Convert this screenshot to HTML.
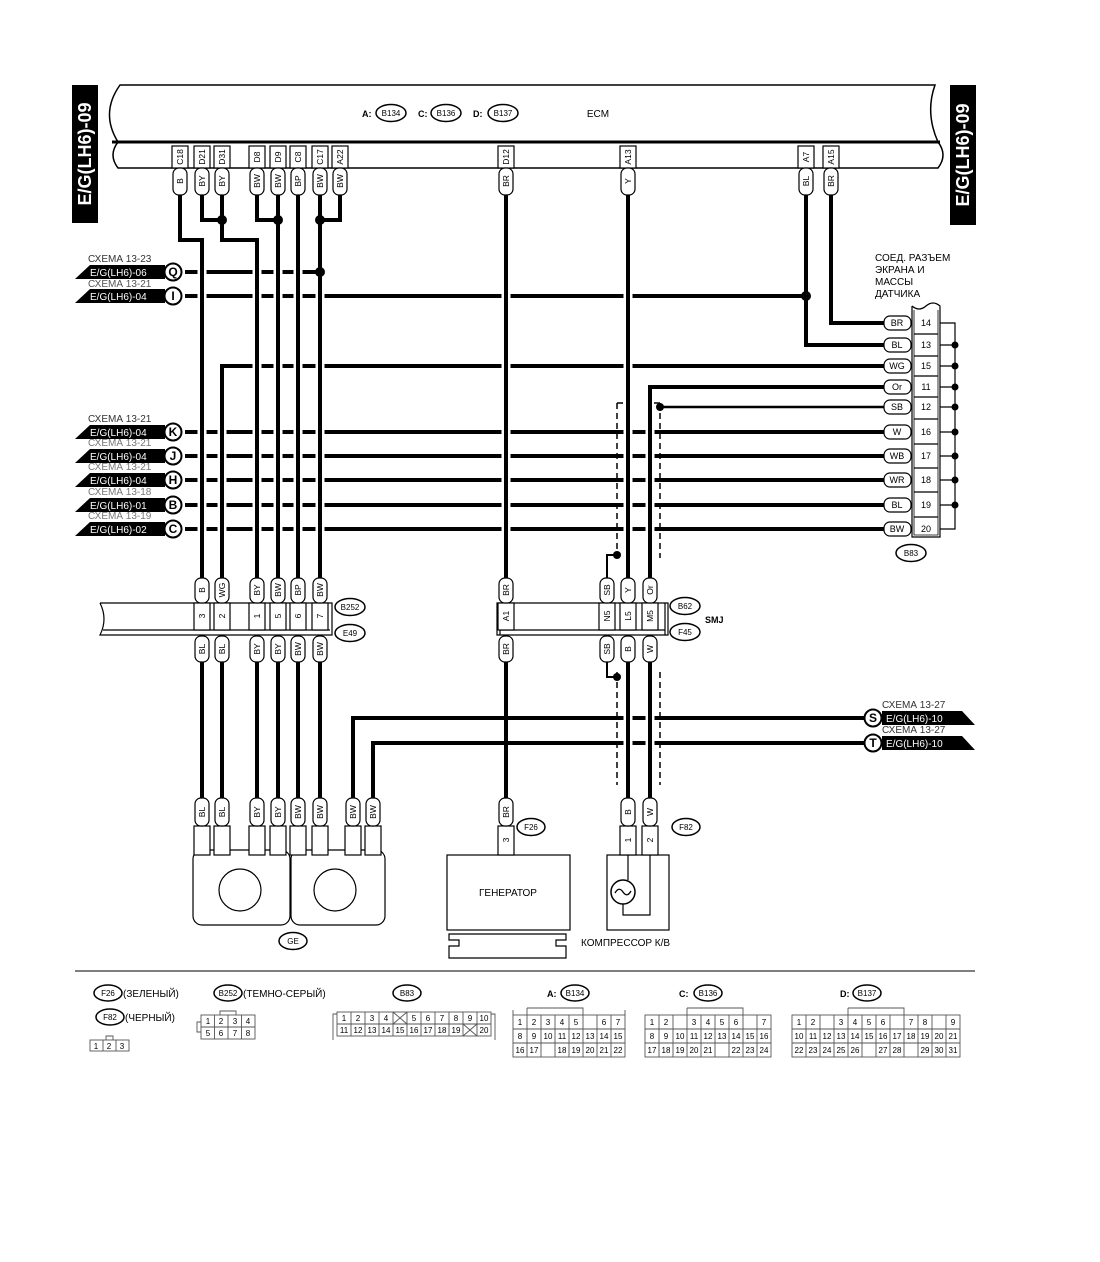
<!DOCTYPE html>
<html><head><meta charset="utf-8"><style>
html,body{margin:0;padding:0;background:#fff}
svg{display:block}
text{font-family:"Liberation Sans",sans-serif;fill:#000}
</style></head><body>
<svg width="1100" height="1262" viewBox="0 0 1100 1262" xmlns="http://www.w3.org/2000/svg">
<rect width="1100" height="1262" fill="#fff"/>
<!-- ECM -->
<path d="M120 85 H935 Q925 113 938 142 Q948 155 938 168 H118 Q108 155 118 142 Q100 113 120 85 Z" fill="#fff" stroke="#000" stroke-width="1.5"/>
<line x1="112" y1="142" x2="940" y2="142" stroke="#000" stroke-width="3"/>
<text x="362" y="117" font-size="9" font-weight="bold">A:</text>
<ellipse cx="391" cy="113" rx="15" ry="8.5" fill="#fff" stroke="#000" stroke-width="1.5"/><text x="391" y="116" font-size="8" text-anchor="middle">B134</text>
<text x="418" y="117" font-size="9" font-weight="bold">C:</text>
<ellipse cx="446" cy="113" rx="15" ry="8.5" fill="#fff" stroke="#000" stroke-width="1.5"/><text x="446" y="116" font-size="8" text-anchor="middle">B136</text>
<text x="473" y="117" font-size="9" font-weight="bold">D:</text>
<ellipse cx="503" cy="113" rx="15" ry="8.5" fill="#fff" stroke="#000" stroke-width="1.5"/><text x="503" y="116" font-size="8" text-anchor="middle">B137</text>
<text x="598" y="117" font-size="10" text-anchor="middle">ECM</text>
<!-- side labels -->
<rect x="72" y="85" width="26" height="138" fill="#000"/>
<text transform="translate(91,154) rotate(-90)" font-size="18" font-weight="bold" text-anchor="middle" style="fill:#fff">E/G(LH6)-09</text>
<rect x="950" y="85" width="26" height="140" fill="#000"/>
<text transform="translate(969,155) rotate(-90)" font-size="18" font-weight="bold" text-anchor="middle" style="fill:#fff">E/G(LH6)-09</text>

<!-- horizontal wires -->
<g stroke="#000" stroke-width="4" fill="none">
<path d="M185 272 H320"/>
<path d="M185 296 H806"/>
<path d="M185 432 H885 M185 456 H885 M185 480 H885 M185 505 H885 M185 529 H885"/>
<path d="M885 366 H222 V578"/>
<path d="M885 387 H650 V578"/>
<path d="M831 195 V323 H885"/>
<path d="M806 195 V345 H885"/>
<path d="M865 718 H353 V798"/>
<path d="M865 743 H373 V798"/>
</g>
<path d="M885 407 H660" stroke="#000" stroke-width="2.5"/>
<!-- vertical halos -->
<g stroke="#fff" stroke-width="9" fill="none">
<path d="M202 246 V578 M257 246 V578 M278 226 V578 M298 200 V578 M320 226 V578 M506 200 V578 M628 200 V578 M222 372 V578 M650 393 V578 M628 662 V798 M650 662 V798"/>
</g>
<g stroke="#000" stroke-width="4" fill="none">
<path d="M180 195 V240 H202 V578"/>
<path d="M202 195 V220 H222"/>
<path d="M222 195 V240 H257 V578"/>
<path d="M257 195 V220 H278"/>
<path d="M278 195 V578"/>
<path d="M298 195 V578"/>
<path d="M320 195 V578"/>
<path d="M340 195 V220 H320"/>
<path d="M506 195 V578"/>
<path d="M628 195 V578"/>
<path d="M222 366 V578"/>
<path d="M650 387 V578"/>
<path d="M202 662 V798 M222 662 V798 M257 662 V798 M278 662 V798 M298 662 V798 M320 662 V798 M506 662 V798 M628 662 V798 M650 662 V798"/>
</g>
<g stroke="#000" stroke-width="2" fill="none">
<path d="M617 555 H607 V578"/>
<path d="M607 662 V677 H617"/>
</g>
<g stroke="#000" stroke-width="1.5" fill="none" stroke-dasharray="6,4">
<path d="M617 403 V558 M660 403 V558 M617 403 H624 M660 403 H653 M617 672 V785 M660 672 V785"/>
</g>
<g fill="#000">
<circle cx="222" cy="220" r="5"/><circle cx="278" cy="220" r="5"/><circle cx="320" cy="220" r="5"/>
<circle cx="320" cy="272" r="5"/><circle cx="806" cy="296" r="5"/>
<circle cx="660" cy="407" r="4"/><circle cx="617" cy="555" r="4"/><circle cx="617" cy="677" r="4"/>
</g>

<!-- ECM pins & tags -->
<g font-size="8.5" text-anchor="middle">
<g fill="#fff" stroke="#000" stroke-width="1.2">
<rect x="172" y="146" width="16" height="22"/><rect x="194" y="146" width="16" height="22"/><rect x="214" y="146" width="16" height="22"/><rect x="249" y="146" width="16" height="22"/><rect x="270" y="146" width="16" height="22"/><rect x="290" y="146" width="16" height="22"/><rect x="312" y="146" width="16" height="22"/><rect x="332" y="146" width="16" height="22"/><rect x="498" y="146" width="16" height="22"/><rect x="620" y="146" width="16" height="22"/><rect x="798" y="146" width="16" height="22"/><rect x="823" y="146" width="16" height="22"/>
<rect x="173" y="168" width="14" height="27" rx="6"/><rect x="195" y="168" width="14" height="27" rx="6"/><rect x="215" y="168" width="14" height="27" rx="6"/><rect x="250" y="168" width="14" height="27" rx="6"/><rect x="271" y="168" width="14" height="27" rx="6"/><rect x="291" y="168" width="14" height="27" rx="6"/><rect x="313" y="168" width="14" height="27" rx="6"/><rect x="333" y="168" width="14" height="27" rx="6"/><rect x="499" y="168" width="14" height="27" rx="6"/><rect x="621" y="168" width="14" height="27" rx="6"/><rect x="799" y="168" width="14" height="27" rx="6"/><rect x="824" y="168" width="14" height="27" rx="6"/>
</g>
<text transform="translate(183,157) rotate(-90)">C18</text><text transform="translate(205,157) rotate(-90)">D21</text><text transform="translate(225,157) rotate(-90)">D31</text><text transform="translate(260,157) rotate(-90)">D8</text><text transform="translate(281,157) rotate(-90)">D9</text><text transform="translate(301,157) rotate(-90)">C8</text><text transform="translate(323,157) rotate(-90)">C17</text><text transform="translate(343,157) rotate(-90)">A22</text><text transform="translate(509,157) rotate(-90)">D12</text><text transform="translate(631,157) rotate(-90)">A13</text><text transform="translate(809,157) rotate(-90)">A7</text><text transform="translate(834,157) rotate(-90)">A15</text>
<text transform="translate(183,181) rotate(-90)">B</text><text transform="translate(205,181) rotate(-90)">BY</text><text transform="translate(225,181) rotate(-90)">BY</text><text transform="translate(260,181) rotate(-90)">BW</text><text transform="translate(281,181) rotate(-90)">BW</text><text transform="translate(301,181) rotate(-90)">BP</text><text transform="translate(323,181) rotate(-90)">BW</text><text transform="translate(343,181) rotate(-90)">BW</text><text transform="translate(509,181) rotate(-90)">BR</text><text transform="translate(631,181) rotate(-90)">Y</text><text transform="translate(809,181) rotate(-90)">BL</text><text transform="translate(834,181) rotate(-90)">BR</text>
</g>

<!-- left flags -->
<g font-size="10">
<text x="88" y="262" style="fill:#333">СХЕМА 13-23</text>
<text x="88" y="287" style="fill:#555">СХЕМА 13-21</text>
<text x="88" y="422" style="fill:#333">СХЕМА 13-21</text>
<text x="88" y="446" style="fill:#777">СХЕМА 13-21</text>
<text x="88" y="470" style="fill:#777">СХЕМА 13-21</text>
<text x="88" y="495" style="fill:#777">СХЕМА 13-18</text>
<text x="88" y="519" style="fill:#777">СХЕМА 13-19</text>
</g>
<g fill="#000">
<polygon points="75,279 90,265 165,265 165,279"/>
<polygon points="75,303 90,289 165,289 165,303"/>
<polygon points="75,439 90,425 165,425 165,439"/>
<polygon points="75,463 90,449 165,449 165,463"/>
<polygon points="75,487 90,473 165,473 165,487"/>
<polygon points="75,512 90,498 165,498 165,512"/>
<polygon points="75,536 90,522 165,522 165,536"/>
</g>
<g font-size="10">
<text x="90" y="276" style="fill:#fff">E/G(LH6)-06</text>
<text x="90" y="300" style="fill:#fff">E/G(LH6)-04</text>
<text x="90" y="436" style="fill:#fff">E/G(LH6)-04</text>
<text x="90" y="460" style="fill:#fff">E/G(LH6)-04</text>
<text x="90" y="484" style="fill:#fff">E/G(LH6)-04</text>
<text x="90" y="509" style="fill:#fff">E/G(LH6)-01</text>
<text x="90" y="533" style="fill:#fff">E/G(LH6)-02</text>
</g>
<g fill="#fff" stroke="#000" stroke-width="2">
<circle cx="173" cy="272" r="8.5"/><circle cx="173" cy="296" r="8.5"/><circle cx="173" cy="432" r="8.5"/><circle cx="173" cy="456" r="8.5"/><circle cx="173" cy="480" r="8.5"/><circle cx="173" cy="505" r="8.5"/><circle cx="173" cy="529" r="8.5"/>
</g>
<g font-size="12" font-weight="bold" text-anchor="middle">
<text x="173" y="276">Q</text><text x="173" y="300">I</text><text x="173" y="436">K</text><text x="173" y="460">J</text><text x="173" y="484">H</text><text x="173" y="509">B</text><text x="173" y="533">C</text>
</g>

<!-- right flags -->
<g font-size="10"><text x="882" y="708" style="fill:#333">СХЕМА 13-27</text><text x="882" y="733" style="fill:#333">СХЕМА 13-27</text></g>
<polygon points="882,711 962,711 975,725 882,725" fill="#000"/>
<polygon points="882,736 962,736 975,750 882,750" fill="#000"/>
<text x="886" y="722" font-size="10" style="fill:#fff">E/G(LH6)-10</text>
<text x="886" y="747" font-size="10" style="fill:#fff">E/G(LH6)-10</text>
<circle cx="873" cy="718" r="8.5" fill="#fff" stroke="#000" stroke-width="2"/>
<circle cx="873" cy="743" r="8.5" fill="#fff" stroke="#000" stroke-width="2"/>
<text x="873" y="722" font-size="12" font-weight="bold" text-anchor="middle">S</text>
<text x="873" y="747" font-size="12" font-weight="bold" text-anchor="middle">T</text>

<!-- B83 connector -->
<text x="875" y="261" font-size="10">СОЕД. РАЗЪЕМ</text>
<text x="875" y="273" font-size="10">ЭКРАНА И</text>
<text x="875" y="285" font-size="10">МАССЫ</text>
<text x="875" y="297" font-size="10">ДАТЧИКА</text>
<path d="M912 306 V537 H940 V306 Q933 300 926 306 Q919 312 912 306" fill="#fff" stroke="#000" stroke-width="1.2"/>
<path d="M914 310 V535 H938 V310" fill="none" stroke="#000" stroke-width="0.8"/>
<g stroke="#000" stroke-width="1.2" fill="none">
<path d="M940 323 H955 V529 H940 M940 345 H955 M940 366 H955 M940 387 H955 M940 407 H955 M940 432 H955 M940 456 H955 M940 480 H955 M940 505 H955"/>
<path d="M914 334 H938 M914 356 H938 M914 376 H938 M914 397 H938 M914 419 H938 M914 444 H938 M914 468 H938 M914 492 H938 M914 517 H938"/>
</g>
<g fill="#000"><circle cx="955" cy="345" r="3.5"/><circle cx="955" cy="366" r="3.5"/><circle cx="955" cy="387" r="3.5"/><circle cx="955" cy="407" r="3.5"/><circle cx="955" cy="432" r="3.5"/><circle cx="955" cy="456" r="3.5"/><circle cx="955" cy="480" r="3.5"/><circle cx="955" cy="505" r="3.5"/></g>
<g fill="#fff" stroke="#000" stroke-width="1.2">
<rect x="884" y="316" width="27" height="14" rx="6"/><rect x="884" y="338" width="27" height="14" rx="6"/><rect x="884" y="359" width="27" height="14" rx="6"/><rect x="884" y="380" width="27" height="14" rx="6"/><rect x="884" y="400" width="27" height="14" rx="6"/><rect x="884" y="425" width="27" height="14" rx="6"/><rect x="884" y="449" width="27" height="14" rx="6"/><rect x="884" y="473" width="27" height="14" rx="6"/><rect x="884" y="498" width="27" height="14" rx="6"/><rect x="884" y="522" width="27" height="14" rx="6"/>
</g>
<g font-size="9" text-anchor="middle">
<text x="897" y="326">BR</text><text x="897" y="348">BL</text><text x="897" y="369">WG</text><text x="897" y="390">Or</text><text x="897" y="410">SB</text><text x="897" y="435">W</text><text x="897" y="459">WB</text><text x="897" y="483">WR</text><text x="897" y="508">BL</text><text x="897" y="532">BW</text>
<text x="926" y="326">14</text><text x="926" y="348">13</text><text x="926" y="369">15</text><text x="926" y="390">11</text><text x="926" y="410">12</text><text x="926" y="435">16</text><text x="926" y="459">17</text><text x="926" y="483">18</text><text x="926" y="508">19</text><text x="926" y="532">20</text>
</g>
<ellipse cx="911" cy="553" rx="15" ry="8.5" fill="#fff" stroke="#000" stroke-width="1.5"/><text x="911" y="556" font-size="8" text-anchor="middle">B83</text>

<!-- SMJ bars -->
<g fill="none" stroke="#000" stroke-width="1.2">
<path d="M100 603 H332 V635 H100 Q108 619 100 603"/>
<path d="M103 630 H330"/>
<path d="M497 603 H668 V635 H497 Z M500 603 V635 M665 603 V635 M500 630 H665"/>
</g>
<g fill="#fff" stroke="#000" stroke-width="1.2">
<rect x="194" y="603" width="16" height="27"/><rect x="214" y="603" width="16" height="27"/><rect x="249" y="603" width="16" height="27"/><rect x="270" y="603" width="16" height="27"/><rect x="290" y="603" width="16" height="27"/><rect x="312" y="603" width="16" height="27"/>
<rect x="498" y="603" width="16" height="27"/><rect x="599" y="603" width="16" height="27"/><rect x="620" y="603" width="16" height="27"/><rect x="642" y="603" width="16" height="27"/>
<rect x="195" y="578" width="14" height="25" rx="6"/><rect x="215" y="578" width="14" height="25" rx="6"/><rect x="250" y="578" width="14" height="25" rx="6"/><rect x="271" y="578" width="14" height="25" rx="6"/><rect x="291" y="578" width="14" height="25" rx="6"/><rect x="313" y="578" width="14" height="25" rx="6"/>
<rect x="499" y="578" width="14" height="25" rx="6"/><rect x="600" y="578" width="14" height="25" rx="6"/><rect x="621" y="578" width="14" height="25" rx="6"/><rect x="643" y="578" width="14" height="25" rx="6"/>
<rect x="195" y="636" width="14" height="26" rx="6"/><rect x="215" y="636" width="14" height="26" rx="6"/><rect x="250" y="636" width="14" height="26" rx="6"/><rect x="271" y="636" width="14" height="26" rx="6"/><rect x="291" y="636" width="14" height="26" rx="6"/><rect x="313" y="636" width="14" height="26" rx="6"/>
<rect x="499" y="636" width="14" height="26" rx="6"/><rect x="600" y="636" width="14" height="26" rx="6"/><rect x="621" y="636" width="14" height="26" rx="6"/><rect x="643" y="636" width="14" height="26" rx="6"/>
</g>
<g font-size="8.5" text-anchor="middle">
<text transform="translate(205,590) rotate(-90)">B</text><text transform="translate(225,590) rotate(-90)">WG</text><text transform="translate(260,590) rotate(-90)">BY</text><text transform="translate(281,590) rotate(-90)">BW</text><text transform="translate(301,590) rotate(-90)">BP</text><text transform="translate(323,590) rotate(-90)">BW</text>
<text transform="translate(509,590) rotate(-90)">BR</text><text transform="translate(610,590) rotate(-90)">SB</text><text transform="translate(631,590) rotate(-90)">Y</text><text transform="translate(653,590) rotate(-90)">Or</text>
<text transform="translate(205,616) rotate(-90)">3</text><text transform="translate(225,616) rotate(-90)">2</text><text transform="translate(260,616) rotate(-90)">1</text><text transform="translate(281,616) rotate(-90)">5</text><text transform="translate(301,616) rotate(-90)">6</text><text transform="translate(323,616) rotate(-90)">7</text>
<text transform="translate(509,616) rotate(-90)">A1</text><text transform="translate(610,616) rotate(-90)">N5</text><text transform="translate(631,616) rotate(-90)">L5</text><text transform="translate(653,616) rotate(-90)">M5</text>
<text transform="translate(205,649) rotate(-90)">BL</text><text transform="translate(225,649) rotate(-90)">BL</text><text transform="translate(260,649) rotate(-90)">BY</text><text transform="translate(281,649) rotate(-90)">BY</text><text transform="translate(301,649) rotate(-90)">BW</text><text transform="translate(323,649) rotate(-90)">BW</text>
<text transform="translate(509,649) rotate(-90)">BR</text><text transform="translate(610,649) rotate(-90)">SB</text><text transform="translate(631,649) rotate(-90)">B</text><text transform="translate(653,649) rotate(-90)">W</text>
</g>
<g fill="#fff" stroke="#000" stroke-width="1.5">
<ellipse cx="350" cy="607" rx="15" ry="8.5"/><ellipse cx="350" cy="633" rx="15" ry="8.5"/>
<ellipse cx="685" cy="606" rx="15" ry="8.5"/><ellipse cx="685" cy="632" rx="15" ry="8.5"/>
</g>
<g font-size="8" text-anchor="middle"><text x="350" y="610">B252</text><text x="350" y="636">E49</text><text x="685" y="609">B62</text><text x="685" y="635">F45</text></g>
<text x="705" y="623" font-size="9" font-weight="bold">SMJ</text>

<!-- bottom connectors -->
<g fill="#fff" stroke="#000" stroke-width="1.2">
<rect x="193" y="850" width="97" height="75" rx="9"/>
<rect x="291" y="850" width="94" height="75" rx="9"/>
<rect x="447" y="855" width="123" height="75"/>
<rect x="607" y="855" width="62" height="75"/>
<path d="M449 934 H566 V940 H556 V946 H566 V958 H449 V946 H459 V940 H449 Z"/>
<rect x="194" y="826" width="16" height="29"/><rect x="214" y="826" width="16" height="29"/><rect x="249" y="826" width="16" height="29"/><rect x="270" y="826" width="16" height="29"/><rect x="290" y="826" width="16" height="29"/><rect x="312" y="826" width="16" height="29"/><rect x="345" y="826" width="16" height="29"/><rect x="365" y="826" width="16" height="29"/>
<rect x="498" y="826" width="16" height="29"/><rect x="620" y="826" width="16" height="29"/><rect x="642" y="826" width="16" height="29"/>
<rect x="195" y="798" width="14" height="28" rx="6"/><rect x="215" y="798" width="14" height="28" rx="6"/><rect x="250" y="798" width="14" height="28" rx="6"/><rect x="271" y="798" width="14" height="28" rx="6"/><rect x="291" y="798" width="14" height="28" rx="6"/><rect x="313" y="798" width="14" height="28" rx="6"/><rect x="346" y="798" width="14" height="28" rx="6"/><rect x="366" y="798" width="14" height="28" rx="6"/>
<rect x="499" y="798" width="14" height="28" rx="6"/><rect x="621" y="798" width="14" height="28" rx="6"/><rect x="643" y="798" width="14" height="28" rx="6"/>
<circle cx="240" cy="890" r="21"/><circle cx="335" cy="890" r="21"/>
</g>
<path d="M628 855 V880 M623 904 V915 H650 V855" fill="none" stroke="#000" stroke-width="1.2"/>
<circle cx="623" cy="892" r="12" fill="#fff" stroke="#000" stroke-width="1.5"/>
<path d="M615 893 Q619 886 623 892 Q627 898 631 891" fill="none" stroke="#000" stroke-width="1.3"/>
<g font-size="8.5" text-anchor="middle">
<text transform="translate(205,812) rotate(-90)">BL</text><text transform="translate(225,812) rotate(-90)">BL</text><text transform="translate(260,812) rotate(-90)">BY</text><text transform="translate(281,812) rotate(-90)">BY</text><text transform="translate(301,812) rotate(-90)">BW</text><text transform="translate(323,812) rotate(-90)">BW</text><text transform="translate(356,812) rotate(-90)">BW</text><text transform="translate(376,812) rotate(-90)">BW</text>
<text transform="translate(509,812) rotate(-90)">BR</text><text transform="translate(631,812) rotate(-90)">B</text><text transform="translate(653,812) rotate(-90)">W</text>
<text transform="translate(509,840) rotate(-90)">3</text><text transform="translate(631,840) rotate(-90)">1</text><text transform="translate(653,840) rotate(-90)">2</text>
</g>
<g fill="#fff" stroke="#000" stroke-width="1.5"><ellipse cx="531" cy="827" rx="14" ry="8.5"/><ellipse cx="686" cy="827" rx="14" ry="8.5"/><ellipse cx="293" cy="941" rx="14" ry="8.5"/></g>
<g font-size="8" text-anchor="middle"><text x="531" y="830">F26</text><text x="686" y="830">F82</text><text x="293" y="944">GE</text></g>
<text x="508" y="896" font-size="10" text-anchor="middle">ГЕНЕРАТОР</text>
<text x="581" y="946" font-size="10">КОМПРЕССОР К/В</text>

<!-- divider -->
<line x1="75" y1="971" x2="975" y2="971" stroke="#555" stroke-width="1.5"/>

<!-- legend -->
<g fill="#fff" stroke="#000" stroke-width="1.5">
<ellipse cx="108" cy="993" rx="14" ry="8"/><ellipse cx="228" cy="993" rx="14" ry="8"/><ellipse cx="407" cy="993" rx="14" ry="8"/>
<ellipse cx="110" cy="1017" rx="14" ry="8"/>
<ellipse cx="575" cy="993" rx="14" ry="8"/><ellipse cx="708" cy="993" rx="14" ry="8"/><ellipse cx="867" cy="993" rx="14" ry="8"/>
</g>
<g font-size="8" text-anchor="middle"><text x="108" y="996">F26</text><text x="228" y="996">B252</text><text x="407" y="996">B83</text><text x="110" y="1020">F82</text><text x="575" y="996">B134</text><text x="708" y="996">B136</text><text x="867" y="996">B137</text></g>
<g font-size="10"><text x="123" y="997">(ЗЕЛЕНЫЙ)</text><text x="243" y="997">(ТЕМНО-СЕРЫЙ)</text><text x="125" y="1021">(ЧЕРНЫЙ)</text>
<text x="547" y="997" font-weight="bold" font-size="9">A:</text><text x="679" y="997" font-weight="bold" font-size="9">C:</text><text x="840" y="997" font-weight="bold" font-size="9">D:</text></g>
<g fill="none" stroke="#555" stroke-width="0.9">
<rect x="90" y="1040" width="39" height="11"/><path d="M103 1040 V1051 M116 1040 V1051 M106 1040 V1036 H113 V1040"/>
<rect x="201" y="1015" width="54" height="24"/><path d="M201 1027 H255 M214.5 1015 V1039 M228 1015 V1039 M241.5 1015 V1039 M220 1015 V1011 H236 V1015 M201 1022 H197 V1032 H201"/>
<rect x="337" y="1012" width="154" height="24"/><path d="M337 1024 H491 M351 1012 V1036 M365 1012 V1036 M379 1012 V1036 M393 1012 V1036 M407 1012 V1036 M421 1012 V1036 M435 1012 V1036 M449 1012 V1036 M463 1012 V1036 M477 1012 V1036 M393 1012 L407 1024 M407 1012 L393 1024 M463 1024 L477 1036 M477 1024 L463 1036 M337 1014 H333 V1040 M491 1014 H495 V1040"/>
<rect x="513" y="1015" width="112" height="42"/><path d="M513 1029 H625 M513 1043 H625 M527 1015 V1057 M541 1015 V1057 M555 1015 V1057 M569 1015 V1029 M583 1015 V1057 M597 1015 V1057 M611 1015 V1057 M569 1029 V1057 M527 1008 V1015 M527 1008 H583 V1015 M513 1010 V1015 M625 1010 V1015"/>
<rect x="645" y="1015" width="126" height="42"/><path d="M645 1029 H771 M645 1043 H771 M659 1015 V1057 M673 1015 V1057 M687 1015 V1057 M701 1015 V1057 M715 1015 V1057 M729 1015 V1057 M743 1015 V1057 M757 1015 V1057 M687 1008 H743 V1015 M687 1008 V1015"/>
<rect x="792" y="1015" width="168" height="42"/><path d="M792 1029 H960 M792 1043 H960 M806 1015 V1057 M820 1015 V1057 M834 1015 V1057 M848 1015 V1057 M862 1015 V1057 M876 1015 V1057 M890 1015 V1057 M904 1015 V1057 M918 1015 V1057 M932 1015 V1057 M946 1015 V1057 M848 1008 H904 V1015 M848 1008 V1015"/>
</g>
<g font-size="8" text-anchor="middle" style="fill:#222">
<text x="96" y="1049">1</text><text x="109" y="1049">2</text><text x="122" y="1049">3</text>
<text x="208" y="1024">1</text><text x="221" y="1024">2</text><text x="235" y="1024">3</text><text x="248" y="1024">4</text>
<text x="208" y="1036">5</text><text x="221" y="1036">6</text><text x="235" y="1036">7</text><text x="248" y="1036">8</text>
<text x="344" y="1021">1</text><text x="358" y="1021">2</text><text x="372" y="1021">3</text><text x="386" y="1021">4</text><text x="414" y="1021">5</text><text x="428" y="1021">6</text><text x="442" y="1021">7</text><text x="456" y="1021">8</text><text x="470" y="1021">9</text><text x="484" y="1021">10</text>
<text x="344" y="1033">11</text><text x="358" y="1033">12</text><text x="372" y="1033">13</text><text x="386" y="1033">14</text><text x="400" y="1033">15</text><text x="414" y="1033">16</text><text x="428" y="1033">17</text><text x="442" y="1033">18</text><text x="456" y="1033">19</text><text x="484" y="1033">20</text>
<text x="520" y="1025">1</text><text x="534" y="1025">2</text><text x="548" y="1025">3</text><text x="562" y="1025">4</text><text x="576" y="1025">5</text><text x="604" y="1025">6</text><text x="618" y="1025">7</text>
<text x="520" y="1039">8</text><text x="534" y="1039">9</text><text x="548" y="1039">10</text><text x="562" y="1039">11</text><text x="576" y="1039">12</text><text x="590" y="1039">13</text><text x="604" y="1039">14</text><text x="618" y="1039">15</text>
<text x="520" y="1053">16</text><text x="534" y="1053">17</text><text x="562" y="1053">18</text><text x="576" y="1053">19</text><text x="590" y="1053">20</text><text x="604" y="1053">21</text><text x="618" y="1053">22</text>
<text x="652" y="1025">1</text><text x="666" y="1025">2</text><text x="694" y="1025">3</text><text x="708" y="1025">4</text><text x="722" y="1025">5</text><text x="736" y="1025">6</text><text x="764" y="1025">7</text>
<text x="652" y="1039">8</text><text x="666" y="1039">9</text><text x="680" y="1039">10</text><text x="694" y="1039">11</text><text x="708" y="1039">12</text><text x="722" y="1039">13</text><text x="736" y="1039">14</text><text x="750" y="1039">15</text><text x="764" y="1039">16</text>
<text x="652" y="1053">17</text><text x="666" y="1053">18</text><text x="680" y="1053">19</text><text x="694" y="1053">20</text><text x="708" y="1053">21</text><text x="736" y="1053">22</text><text x="750" y="1053">23</text><text x="764" y="1053">24</text>
<text x="799" y="1025">1</text><text x="813" y="1025">2</text><text x="841" y="1025">3</text><text x="855" y="1025">4</text><text x="869" y="1025">5</text><text x="883" y="1025">6</text><text x="911" y="1025">7</text><text x="925" y="1025">8</text><text x="953" y="1025">9</text>
<text x="799" y="1039">10</text><text x="813" y="1039">11</text><text x="827" y="1039">12</text><text x="841" y="1039">13</text><text x="855" y="1039">14</text><text x="869" y="1039">15</text><text x="883" y="1039">16</text><text x="897" y="1039">17</text><text x="911" y="1039">18</text><text x="925" y="1039">19</text><text x="939" y="1039">20</text><text x="953" y="1039">21</text>
<text x="799" y="1053">22</text><text x="813" y="1053">23</text><text x="827" y="1053">24</text><text x="841" y="1053">25</text><text x="855" y="1053">26</text><text x="883" y="1053">27</text><text x="897" y="1053">28</text><text x="925" y="1053">29</text><text x="939" y="1053">30</text><text x="953" y="1053">31</text>
</g>
</svg>
</body></html>
